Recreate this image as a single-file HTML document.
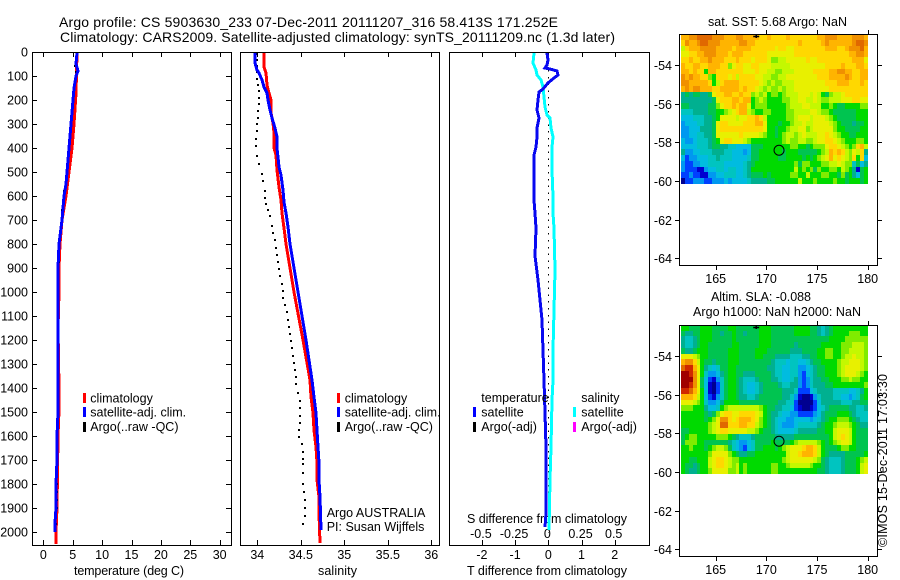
<!DOCTYPE html>
<html lang="en">
<head>
<meta charset="utf-8">
<title>Argo profile chart</title>
<style>
html,body{margin:0;padding:0;background:#fff;width:900px;height:580px;overflow:hidden}
svg{display:block;font-family:"Liberation Sans",sans-serif;fill:#000}
text{font-size:12.5px}
.title{font-size:14px}
</style>
</head>
<body>
<svg id="chart" width="900" height="580" viewBox="0 0 900 580" xmlns="http://www.w3.org/2000/svg">
<rect x="0" y="0" width="900" height="580" fill="#fff"/>
<text class="title" x="59" y="27" textLength="499" lengthAdjust="spacing">Argo profile: CS 5903630_233 07-Dec-2011 20111207_316 58.413S 171.252E</text>
<text class="title" x="60" y="42" textLength="555" lengthAdjust="spacing">Climatology: CARS2009. Satellite-adjusted climatology: synTS_20111209.nc (1.3d later)</text>
<text x="74" y="575" textLength="110" lengthAdjust="spacing">temperature (deg C)</text>
<text x="318" y="575" textLength="39" lengthAdjust="spacing">salinity</text>
<text x="467" y="575" textLength="160" lengthAdjust="spacing">T difference from climatology</text>
<text x="467" y="523" textLength="160" lengthAdjust="spacing">S difference from climatology</text>
<text x="708" y="26" textLength="139" lengthAdjust="spacing">sat. SST: 5.68 Argo: NaN</text>
<text x="711" y="301" textLength="100" lengthAdjust="spacing">Altim. SLA: -0.088</text>
<text x="693" y="316" textLength="168" lengthAdjust="spacing">Argo h1000: NaN h2000: NaN</text>
<text transform="translate(887,547) rotate(-90)" textLength="173" lengthAdjust="spacing">©IMOS 15-Dec-2011 17:03:30</text>
<g id="layer"></g>
</svg>
<script>
// ---------- profile data ----------
const depthTicks = [0,100,200,300,400,500,600,700,800,900,1000,1100,1200,1300,1400,1500,1600,1700,1800,1900,2000];
const tempTicks = [0,5,10,15,20,25,30];
const salTicks = [34,34.5,35,35.5,36];
const salTickLabels = ['34','34.5','35','35.5','36'];
const tDiffTicks = [-2,-1,0,1,2];
const sDiffTicks = [-0.5,-0.25,0,0.25,0.5];
const sDiffTickLabels = ['-0.5','-0.25','0','0.25','0.5'];
const lonTicks = [165,170,175,180];
const latTicks = [-54,-56,-58,-60,-62,-64];

const tempClimDepth = [5,170,300,400,500,600,700,800,900,1000,1150,1400,1490,1600,1900,2000,2050];
const tempClim = [5.7,5.56,5.16,4.8,4.4,3.9,3.2,2.85,2.7,2.6,2.5,2.67,2.6,2.55,2.38,2.1,2.1];
const tempSatDepth = [5,50,80,100,150,200,250,300,350,400,450,500,550,600,700,800,900,1000,1200,1400,1500,1600,1700,1800,1900,1960,2000];
const tempSat = [5.8,5.6,5.85,5.6,5.3,5.05,4.9,4.75,4.6,4.4,4.25,4.0,3.8,3.45,3.1,2.75,2.5,2.5,2.45,2.45,2.42,2.38,2.25,2.15,2.15,2.0,1.95];

const salClimDepth = [5,61,89,137,172,200,255,297,339,401,429,491,561,616,672,734,800,1000,1200,1366,1435,1505,1574,1643,1713,1782,1851,1921,2046];
const salClim = [34.08,34.08,34.10,34.115,34.14,34.157,34.16,34.177,34.19,34.195,34.215,34.23,34.246,34.27,34.287,34.307,34.33,34.42,34.525,34.6,34.62,34.637,34.65,34.67,34.686,34.69,34.705,34.71,34.725];
const salSatDepth = [5,47,75,89,116,144,172,200,241,276,318,353,401,436,478,512,575,623,672,727,800,1000,1200,1366,1435,1505,1574,1643,1713,1782,1851,1990];
const salSat = [33.97,33.97,33.993,34.02,34.05,34.077,34.108,34.127,34.146,34.172,34.2,34.223,34.223,34.234,34.253,34.27,34.29,34.31,34.33,34.35,34.375,34.47,34.56,34.63,34.652,34.67,34.686,34.7,34.71,34.712,34.724,34.73];

const argoDepth = [5,30,55,80,110,135,158,186,214,241,269,297,325,357,388,429,464,505,533,575,603,630,655,679,721,750,780,810,840,870,900,930,960,990,1020,1050,1080,1110,1140,1170,1200,1230,1260,1290,1320,1350,1380,1415,1450,1480,1510,1540,1570,1601,1630,1660,1690,1713,1750,1796,1830,1860,1893,1930,1962];
const argoTemp = [5.7,5.6,5.45,5.5,5.4,5.25,5.15,5.0,4.9,4.8,4.75,4.7,4.65,4.5,4.35,4.2,4.1,3.95,3.8,3.6,3.45,3.3,3.2,3.1,3.0,2.9,2.8,2.72,2.65,2.6,2.55,2.52,2.5,2.5,2.5,2.48,2.48,2.46,2.46,2.45,2.45,2.45,2.45,2.45,2.45,2.44,2.44,2.44,2.43,2.42,2.42,2.42,2.4,2.4,2.4,2.4,2.4,2.3,2.28,2.25,2.25,2.25,2.25,2.2,2.15];
const argoSal = [34.0,34.0,34.0,34.0,34.0,34.01,34.02,34.02,34.02,34.01,34.01,34.0,34.0,33.99,33.98,34.0,34.02,34.05,34.06,34.09,34.09,34.1,34.12,34.15,34.17,34.18,34.2,34.22,34.23,34.24,34.25,34.26,34.28,34.29,34.3,34.32,34.34,34.35,34.37,34.38,34.39,34.4,34.41,34.42,34.43,34.44,34.45,34.47,34.49,34.49,34.49,34.49,34.48,34.48,34.51,34.52,34.52,34.53,34.53,34.52,34.54,34.55,34.55,34.55,34.52];

const tDiffDepth = [5,33,54,68,72,78,96,110,131,152,165,200,241,276,318,353,394,429,519,616,672,734,850,950,1116,1366,1505,1643,1920,1980];
const tDiff = [-0.03,0,-0.05,-0.1,0.05,0.25,0.3,0.17,0,-0.15,-0.27,-0.31,-0.33,-0.29,-0.35,-0.33,-0.37,-0.43,-0.43,-0.43,-0.4,-0.37,-0.39,-0.3,-0.2,-0.12,-0.1,-0.07,-0.07,-0.1];
const sDiffDepth = [5,47,75,96,116,144,186,227,262,276,318,353,394,491,602,672,734,908,1240,1366,1449,1643,1782,1990];
const sDiff = [-0.108,-0.113,-0.095,-0.083,-0.057,-0.038,-0.032,-0.023,-0.0075,0.01,0.02,0.033,0.03,0.03,0.033,0.038,0.04,0.05,0.038,0.038,0.026,0.018,0.013,0.008];

// ---------- map data: colour-scale level per grid cell ----------
const sstRow00 = [13,13,14,14,15,15,15,15,14,14,14,13,13,13,14,14,13,13,13,13,12,12,13,12,12,12,12,13,12,12,12,12,12,12,12,13,13,14,14,14,13,13,13,13,14,14,14,13];
const sstRow01 = [12,14,13,13,14,15,15,14,14,14,13,13,13,13,13,14,14,13,13,12,12,12,12,12,12,12,12,12,12,12,13,12,12,12,12,12,13,14,13,13,13,13,13,13,14,15,15,14];
const sstRow02 = [10,12,13,13,13,14,14,14,14,13,13,13,13,12,13,13,13,13,12,12,12,12,12,12,11,12,12,11,11,12,12,12,12,12,12,12,12,13,13,13,12,12,13,14,14,14,15,13];
const sstRow03 = [11,11,12,12,13,13,14,14,14,13,13,13,12,13,13,13,12,12,12,12,12,12,11,11,11,11,11,11,11,12,12,12,12,12,12,12,12,12,12,12,12,12,12,13,13,14,14,13];
const sstRow04 = [12,12,13,12,12,13,13,14,13,13,13,12,12,12,13,12,12,12,11,12,12,12,11,9,9,10,10,11,11,11,11,11,12,11,11,12,12,12,12,12,12,12,12,12,13,13,13,11];
const sstRow05 = [13,12,12,13,13,12,12,13,13,13,12,12,9,11,12,12,11,11,12,12,11,11,11,10,10,10,10,10,11,11,11,11,11,11,11,11,11,12,12,12,12,13,12,12,12,13,13,12];
const sstRow06 = [13,13,12,13,12,12,8,13,13,12,12,12,12,12,12,12,11,11,11,12,11,11,10,10,9,9,10,10,10,11,11,11,11,11,12,12,12,12,13,13,14,14,13,13,12,12,13,13];
const sstRow07 = [14,13,14,13,13,12,12,9,8,12,12,12,11,12,10,12,12,12,12,11,11,10,10,9,9,10,10,11,11,11,11,11,11,11,11,12,12,12,13,13,13,13,14,13,12,12,13,13];
const sstRow08 = [14,14,13,13,13,13,13,12,8,10,12,13,13,13,13,12,12,12,12,12,11,10,9,10,9,9,10,10,10,11,11,11,11,11,11,11,11,12,12,12,13,13,13,12,12,12,13,12];
const sstRow09 = [13,14,13,14,14,13,13,13,12,12,13,13,13,13,13,12,13,12,12,11,10,9,10,9,9,10,9,10,10,11,11,11,11,11,11,11,11,11,12,12,12,12,12,12,12,12,12,12];
const sstRow10 = [6,7,6,7,7,6,6,7,11,12,12,13,13,12,12,13,12,12,9,10,9,10,8,9,9,8,9,10,10,10,11,11,11,10,11,10,8,7,9,10,10,11,12,12,12,12,12,12];
const sstRow11 = [6,6,6,6,6,6,6,6,7,11,12,12,12,13,13,12,13,13,8,9,10,9,8,8,8,8,9,9,10,10,11,11,10,10,11,10,9,9,10,10,10,11,11,11,12,12,11,11];
const sstRow12 = [7,7,6,6,6,6,6,7,7,9,11,12,12,13,12,13,13,11,8,9,9,9,8,8,8,8,8,9,10,10,10,11,11,10,10,10,8,8,9,8,7,7,8,8,8,8,9,9];
const sstRow13 = [5,5,5,6,6,6,6,7,7,8,8,9,10,11,12,13,13,10,9,8,8,9,9,8,8,8,8,9,9,10,10,10,10,11,11,10,9,9,8,7,7,7,7,7,7,8,8,8];
const sstRow14 = [4,4,4,5,5,5,6,6,7,8,11,11,11,11,10,11,11,12,12,13,12,10,8,8,8,8,8,9,9,10,11,11,11,10,11,11,11,10,9,8,7,7,7,7,7,8,8,8];
const sstRow15 = [3,4,4,4,5,5,6,6,7,11,12,12,11,11,11,11,12,12,12,13,13,11,8,8,8,7,8,8,9,10,10,11,10,10,11,11,11,11,10,9,8,7,7,7,6,7,7,8];
const sstRow16 = [3,3,4,4,4,6,6,6,7,11,12,12,12,12,12,12,12,12,12,12,12,11,8,8,7,8,8,9,10,10,11,11,9,10,11,11,11,11,11,9,8,8,7,7,7,7,8,8];
const sstRow17 = [3,3,4,4,5,5,6,6,7,11,11,11,11,11,11,12,11,11,11,11,10,9,8,8,7,8,9,10,10,9,10,11,10,10,10,11,11,12,11,10,9,8,8,7,7,8,8,8];
const sstRow18 = [4,3,3,4,5,5,5,6,7,8,11,12,12,11,11,11,10,9,8,8,8,8,8,8,8,8,9,10,9,9,10,10,9,9,10,11,11,12,12,11,10,9,8,8,8,9,9,8];
const sstRow19 = [4,4,4,4,5,5,5,6,7,7,6,6,5,5,4,4,4,4,7,7,7,8,8,8,8,8,8,8,9,9,8,8,7,8,9,9,9,11,12,12,11,10,9,8,9,12,13,10];
const sstRow20 = [6,3,3,4,4,5,5,5,6,6,6,5,5,4,4,4,3,4,7,7,8,8,8,8,8,8,7,8,8,8,7,7,7,7,7,8,9,10,13,12,13,12,10,9,11,10,12,6];
const sstRow21 = [4,2,3,3,4,4,4,5,5,6,5,5,5,4,4,4,4,5,7,7,8,8,8,8,8,7,7,8,8,8,8,7,8,7,8,9,10,11,13,11,12,11,10,9,12,8,12,4];
const sstRow22 = [3,2,2,3,3,4,4,5,5,5,5,4,4,4,4,4,5,6,7,8,8,8,8,8,8,8,8,8,8,9,7,9,9,8,8,8,9,9,10,10,11,10,9,9,5,7,4,6];
const sstRow23 = [3,2,2,2,1,1,3,4,4,5,5,4,5,5,4,4,5,6,8,8,8,8,8,8,8,8,8,8,8,10,8,9,8,9,7,9,8,8,9,9,8,10,9,8,6,1,7,8];
const sstRow24 = [2,2,3,2,2,1,1,3,3,4,4,5,5,5,4,4,5,6,7,7,7,8,7,8,8,8,8,8,9,9,8,8,10,8,8,8,9,9,8,8,7,9,7,8,6,4,7,8];
const sstRow25 = [0,2,2,3,3,3,2,2,3,3,3,4,3,4,4,4,4,5,6,6,6,6,7,7,8,8,8,8,8,8,10,8,8,8,9,8,8,8,8,9,8,8,7,8,8,8,7,8];
const sstGrid = [sstRow00,sstRow01,sstRow02,sstRow03,sstRow04,sstRow05,sstRow06,sstRow07,sstRow08,sstRow09,sstRow10,sstRow11,sstRow12,sstRow13,sstRow14,sstRow15,sstRow16,sstRow17,sstRow18,sstRow19,sstRow20,sstRow21,sstRow22,sstRow23,sstRow24,sstRow25];

const slaRow00 = [8,8,7,7,7,8,8,8,7,7,7,7,8,8,7,7,7,7,7,7,8,8,8,7,7,7,7,7,7,8,8,8,8,7,7,6,5,6,7,8,8,8,8,8,8,8,8,8];
const slaRow01 = [7,6,6,7,7,8,8,8,7,7,6,7,7,8,7,7,6,7,7,7,8,8,8,7,7,7,7,7,7,8,8,8,8,7,7,6,5,6,7,8,8,8,8,9,9,9,8,8];
const slaRow02 = [6,5,5,6,7,8,8,8,7,7,7,7,7,8,7,7,7,7,7,7,8,8,8,7,7,7,7,7,7,7,7,7,7,7,7,7,7,7,8,8,8,8,9,9,9,9,9,9];
const slaRow03 = [6,5,5,6,7,8,8,7,7,7,7,7,7,8,8,7,7,7,7,7,8,8,8,7,7,7,7,7,7,6,7,7,7,7,7,7,8,8,8,8,8,9,9,9,10,10,10,9];
const slaRow04 = [7,6,6,7,8,8,8,7,7,7,7,7,8,8,8,7,7,7,7,8,8,8,7,7,7,7,7,7,6,6,6,7,7,7,7,8,8,9,9,8,8,9,9,10,10,10,10,9];
const slaRow05 = [11,11,11,10,9,8,8,7,7,7,7,7,8,8,8,7,7,7,7,8,8,7,7,7,6,6,6,6,5,5,5,6,6,7,7,8,8,9,9,8,8,9,10,10,11,10,10,9];
const slaRow06 = [13,14,14,12,10,8,7,7,6,7,7,7,8,8,8,7,7,7,7,7,7,7,7,6,5,5,5,4,5,5,4,4,5,6,7,7,8,8,8,8,9,10,10,11,11,11,10,9];
const slaRow07 = [15,16,16,13,11,8,6,5,4,5,7,7,8,8,7,7,7,7,7,7,7,7,6,6,5,5,4,4,5,5,3,3,4,5,6,7,7,8,8,8,9,10,11,11,11,11,10,9];
const slaRow08 = [17,17,16,14,11,8,5,3,3,4,6,7,8,8,7,7,6,6,6,7,7,7,7,6,5,5,4,4,5,5,3,2,4,5,6,7,7,8,8,8,9,10,11,11,11,10,9,8];
const slaRow09 = [17,17,17,14,11,7,4,2,1,3,5,7,8,8,7,6,5,5,5,6,7,7,7,6,6,5,4,4,5,6,3,2,3,5,6,6,7,7,8,8,8,9,9,10,9,9,8,8];
const slaRow10 = [17,17,16,14,11,7,4,1,0,2,5,7,8,8,7,6,5,4,4,5,6,7,7,7,7,6,5,5,6,6,3,2,3,5,6,6,6,7,7,8,8,8,8,8,8,8,8,9];
const slaRow11 = [16,16,15,13,11,8,4,1,0,2,5,7,8,8,7,6,5,4,4,5,6,7,7,7,7,7,6,6,6,5,2,2,2,4,5,6,6,6,6,5,5,5,5,4,4,5,6,8];
const slaRow12 = [13,13,13,12,10,8,4,2,1,3,5,7,8,8,7,6,6,5,5,6,7,7,7,7,7,7,6,6,5,3,1,0,0,1,3,5,6,6,6,5,5,4,4,3,4,5,7,8];
const slaRow13 = [11,11,11,10,9,8,5,3,3,4,6,8,8,8,8,7,7,7,7,7,7,7,7,7,7,6,6,5,5,2,0,0,0,0,2,4,6,6,6,6,6,5,5,5,6,6,7,7];
const slaRow14 = [9,9,9,8,8,8,6,4,4,5,8,9,10,10,10,10,10,10,10,10,9,8,7,7,6,6,5,5,4,2,1,0,0,1,2,4,5,6,7,7,7,7,7,6,6,5,5,6];
const slaRow15 = [8,8,8,8,8,8,7,6,7,9,11,12,12,11,11,12,12,12,12,11,10,8,7,6,6,5,4,4,3,3,2,2,2,2,3,4,6,7,7,7,8,8,8,7,6,5,5,5];
const slaRow16 = [8,8,8,8,8,8,7,8,9,11,14,14,12,11,12,13,13,13,12,11,9,8,7,6,5,4,4,3,3,4,4,4,4,3,4,5,6,7,8,8,9,9,9,8,7,6,5,5];
const slaRow17 = [8,8,8,8,8,8,8,9,10,11,15,15,12,12,12,13,13,12,12,10,9,8,7,6,5,4,3,3,3,4,5,5,5,5,5,6,7,8,8,9,10,10,10,9,8,7,6,6];
const slaRow18 = [7,7,8,8,8,8,8,9,10,11,12,12,11,11,11,11,11,10,10,9,8,7,7,6,5,4,4,4,4,5,6,6,6,6,6,7,7,8,8,10,11,11,11,10,8,7,7,7];
const slaRow19 = [7,8,9,9,8,8,8,8,8,9,9,9,8,7,6,5,5,5,6,7,7,7,7,7,6,6,6,6,6,7,7,7,7,7,7,7,7,7,8,10,11,12,11,10,8,7,7,7];
const slaRow20 = [7,9,9,9,8,8,7,7,7,7,7,7,6,5,4,3,3,4,5,7,7,7,7,8,7,7,7,7,8,9,10,10,10,10,10,9,8,7,8,9,10,11,11,10,8,7,7,7];
const slaRow21 = [8,8,9,8,8,8,7,8,9,10,10,9,7,5,4,3,2,4,5,7,7,8,8,8,7,8,9,10,11,11,11,12,13,13,12,10,8,7,7,7,8,9,9,8,8,7,7,7];
const slaRow22 = [8,8,8,8,8,8,8,9,11,11,11,11,9,8,7,6,6,7,7,8,8,8,8,8,8,8,8,10,11,11,12,13,13,13,12,10,8,7,6,6,6,6,7,7,7,7,7,8];
const slaRow23 = [8,8,7,7,8,8,8,10,11,12,12,11,10,9,9,8,8,8,8,8,8,8,8,8,8,8,9,10,11,11,11,11,11,11,10,9,7,6,5,5,5,6,7,7,7,8,9,10];
const slaRow24 = [8,7,7,6,7,8,8,10,11,12,12,11,10,9,10,8,9,8,8,8,8,8,8,9,9,8,8,9,10,10,10,10,10,9,8,8,7,6,5,5,5,6,7,7,7,8,10,11];
const slaRow25 = [8,7,6,6,7,8,8,9,11,11,11,11,9,9,10,8,9,8,8,8,8,8,8,9,9,8,8,8,8,8,8,8,8,8,8,7,7,6,5,5,5,6,7,7,7,8,10,11];
const slaGrid = [slaRow00,slaRow01,slaRow02,slaRow03,slaRow04,slaRow05,slaRow06,slaRow07,slaRow08,slaRow09,slaRow10,slaRow11,slaRow12,slaRow13,slaRow14,slaRow15,slaRow16,slaRow17,slaRow18,slaRow19,slaRow20,slaRow21,slaRow22,slaRow23,slaRow24,slaRow25];

const argoLon = [171.25];
const argoLat = [-58.41];

// ---------- scales ----------
const layer = document.getElementById('layer');
const NS = 'http://www.w3.org/2000/svg';
const yDepth = d => 52 + d * 0.24015;
const xTemp = v => 43.3 + v * 5.88;
const xSal = v => 257.3 + (v - 34) * 87;
const xTDiff = v => 548.3 + v * 33.2;
const xSDiff = v => 548.3 + v * 132.8;
const xLon = v => 715.7 + (v - 165) * 10.133;
const yLat = (v, top) => top + 31 + (-54 - v) * 19.33;
const levelColors = ['#000090','#0000d0','#0040ff','#0098f0','#00bce0','#00c4c0','#00b090','#00c450','#00da00','#80ec00','#c4f800','#e8f000','#ffd800','#ffb400','#f09000','#e06800','#d02800','#a00000'];
const colorOf = v => levelColors[Math.max(0, Math.min(levelColors.length - 1, Math.round(v)))];

function mk(tag, props) {
  const n = document.createElementNS(NS, tag);
  for (const k in props) n.setAttribute(k, props[k]);
  layer.appendChild(n);
  return n;
}
function frame(x0, y0, x1, y1, name) {
  const el = mk('rect', {x: x0 + .5, y: y0 + .5, width: x1 - x0, height: y1 - y0, fill: 'none', stroke: '#000', 'stroke-width': 1, 'shape-rendering': 'crispEdges'});
  
  
}
function tick(x1, y1, x2, y2, name) {
  const el = mk('line', {x1, y1, x2, y2, stroke: '#000', 'stroke-width': 1, 'shape-rendering': 'crispEdges'});
  
  
}
function label(x, y, str, anchor, name) {
  const el = mk('text', {x, y, 'text-anchor': anchor});
  el.textContent = str;
  
  
}
function profile(depths, values, xs, color, width, name) {
  const pts = depths.map((d, i) => Math.round(xs(values[i])) + ',' + Math.round(yDepth(d))).join(' ');
  const el = mk('polyline', {points: pts, fill: 'none', stroke: color, 'stroke-width': width, 'shape-rendering': 'crispEdges', 'stroke-linejoin': 'miter'});
  
  
}
function dots(depths, values, xs, name) {
  depths.forEach((d, i) => {
    const el = mk('rect', {x: Math.round(xs(values[i])) - 1, y: Math.round(yDepth(d)), width: 2, height: 2, fill: '#000', 'shape-rendering': 'crispEdges'});
    
    
  });
}
function legendBar(x, y, color, name) {
  const el = mk('rect', {x: x - 1, y, width: 3, height: 10, fill: color, 'shape-rendering': 'crispEdges'});
  
  
}
function bottomTopTicks(ticks, xs, x0, name) {
  ticks.forEach(v => {
    const x = Math.round(xs(v)) + .5;
    tick(x, 52, x, 57, name);
    tick(x, 545, x, 540, name);
  });
}

// ---------- temperature panel ----------
frame(32, 52, 231, 545, 'temperature-panel-frame');
bottomTopTicks(tempTicks, xTemp, 32, 'temperature-axis-tick');
tempTicks.forEach(v => label(xTemp(v), 559, String(v), 'middle', 'temperature-tick-label'));
depthTicks.forEach(d => {
  const y = Math.round(yDepth(d)) + .5;
  if (d > 0) {
    tick(32, y, 37, y, 'depth-axis-tick');
    tick(231, y, 226, y, 'depth-axis-tick');
  }
  label(28, y + 4, String(d), 'end', 'depth-tick-label');
});
profile(tempClimDepth, tempClim, xTemp, '#ff0000', 3, 'temperature-climatology-line');
dots(argoDepth, argoTemp, xTemp, 'temperature-argo-point');
profile(tempSatDepth, tempSat, xTemp, '#0000ff', 3, 'temperature-satellite-line');
legendBar(84, 393, '#ff0000', 'legend-climatology-swatch');
legendBar(84, 407, '#0000ff', 'legend-satellite-swatch');
legendBar(84, 422, '#000000', 'legend-argo-swatch');
label(90.3, 402.5, 'climatology', 'start', 'legend-climatology-label');
label(90.3, 416.5, 'satellite-adj. clim.', 'start', 'legend-satellite-label');
label(90.3, 431, 'Argo(..raw -QC)', 'start', 'legend-argo-label');

// ---------- salinity panel ----------
frame(240, 52, 439, 545, 'salinity-panel-frame');
bottomTopTicks(salTicks, xSal, 240, 'salinity-axis-tick');
salTicks.forEach((v, i) => label(xSal(v), 559, salTickLabels[i], 'middle', 'salinity-tick-label'));
dots(argoDepth, argoSal, xSal, 'salinity-argo-point');
profile(salClimDepth, salClim, xSal, '#ff0000', 3, 'salinity-climatology-line');
profile(salSatDepth, salSat, xSal, '#0000ff', 3, 'salinity-satellite-line');
legendBar(338, 393, '#ff0000', 'legend-climatology-swatch');
legendBar(338, 407, '#0000ff', 'legend-satellite-swatch');
legendBar(338, 422, '#000000', 'legend-argo-swatch');
label(344.7, 402.5, 'climatology', 'start', 'legend-climatology-label');
label(344.7, 416.5, 'satellite-adj. clim.', 'start', 'legend-satellite-label');
label(344.7, 431, 'Argo(..raw -QC)', 'start', 'legend-argo-label');
label(326.7, 517, 'Argo AUSTRALIA', 'start', 'argo-programme-label');
label(326.7, 531, 'PI: Susan Wijffels', 'start', 'principal-investigator-label');

// ---------- difference panel ----------
frame(449, 52, 649, 545, 'difference-panel-frame');
bottomTopTicks(tDiffTicks, xTDiff, 449, 'difference-axis-tick');
tDiffTicks.forEach(v => label(xTDiff(v), 559, String(v), 'middle', 'temperature-difference-tick-label'));
sDiffTicks.forEach((v, i) => label(xSDiff(v) - 1, 538, sDiffTickLabels[i], 'middle', 'salinity-difference-tick-label'));
const zeroLine = mk('line', {x1: 548.5, y1: 70, x2: 548.5, y2: 533, stroke: '#000', 'stroke-width': 1.3, 'stroke-dasharray': '1.5 5.3', 'shape-rendering': 'crispEdges'});


profile(sDiffDepth, sDiff, xSDiff, '#00ffff', 3, 'salinity-difference-line');
profile(tDiffDepth, tDiff, xTDiff, '#0808f0', 3, 'temperature-difference-line');
label(481.3, 402, 'temperature', 'start', 'legend-temperature-heading');
label(481.3, 416.5, 'satellite', 'start', 'legend-t-satellite-label');
label(481.3, 431, 'Argo(-adj)', 'start', 'legend-t-argo-label');
label(581.3, 402, 'salinity', 'start', 'legend-salinity-heading');
label(581.3, 416.5, 'satellite', 'start', 'legend-s-satellite-label');
label(581.3, 431, 'Argo(-adj)', 'start', 'legend-s-argo-label');
legendBar(474, 407, '#0000ff', 'legend-t-satellite-swatch');
legendBar(474, 422, '#000000', 'legend-t-argo-swatch');
legendBar(574, 407, '#00ffff', 'legend-s-satellite-swatch');
legendBar(574, 422, '#ff00ff', 'legend-s-argo-swatch');

// ---------- maps ----------
function drawMap(grid, top, bottom, heatBottom, prefix) {
  const nr = grid.length;
  grid.forEach((row, r) => {
    const nc = row.length;
    row.forEach((v, c) => {
      const x0 = Math.round(681 + c * 187 / nc);
      const x1 = Math.round(681 + (c + 1) * 187 / nc);
      const y0 = Math.round(top + r * (heatBottom - top) / nr);
      const y1 = Math.round(top + (r + 1) * (heatBottom - top) / nr);
      const cell = mk('rect', {x: x0, y: y0, width: x1 - x0, height: y1 - y0, fill: colorOf(v), 'shape-rendering': 'crispEdges'});
      
      
    });
  });
  frame(679, top, 877, bottom, prefix + '-map-frame');
  lonTicks.forEach(v => {
    const x = Math.round(xLon(v)) + .5;
    tick(x, top, x, top - 4, prefix + '-longitude-tick');
    tick(x, bottom + 1, x, bottom + 5, prefix + '-longitude-tick');
    label(xLon(v), bottom + 18, String(v), 'middle', prefix + '-longitude-label');
  });
  latTicks.forEach(v => {
    const y = Math.round(yLat(v, top)) + .5;
    tick(679, y, 675, y, prefix + '-latitude-tick');
    tick(878, y, 882, y, prefix + '-latitude-tick');
    label(672, y + 4.5, String(v), 'end', prefix + '-latitude-label');
  });
  const coast = mk('path', {d: 'M' + (xLon(169) - 3) + ' ' + (top + 2.5) + 'h6M' + xLon(169) + ' ' + (top + 1) + 'v3', stroke: '#000', 'stroke-width': 1.5, fill: 'none'});
  
  
  argoLon.forEach((lon, i) => {
    const ring = mk('circle', {cx: xLon(lon), cy: yLat(argoLat[i], top), r: 5, fill: 'none', stroke: '#000', 'stroke-width': 1});
    
    
  });
}
drawMap(sstGrid, 34, 265, 184, 'sst');
drawMap(slaGrid, 325, 556, 474, 'sla');
</script>
</body>
</html>
